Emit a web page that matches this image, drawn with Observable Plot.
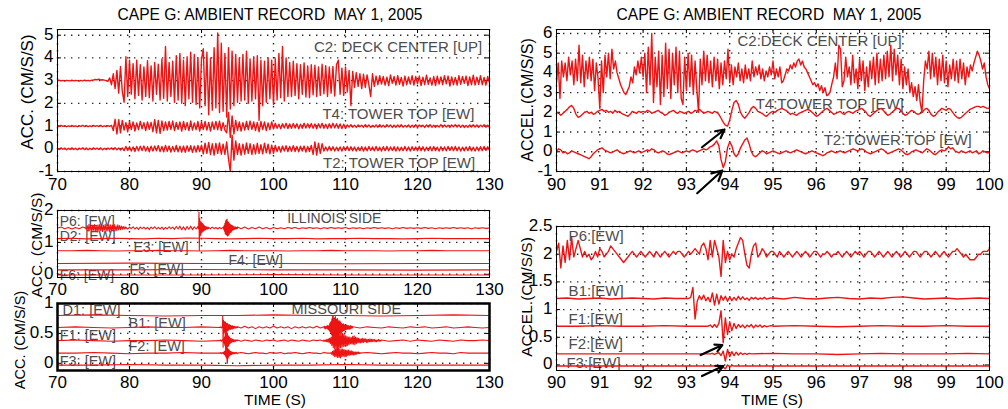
<!DOCTYPE html>
<html><head><meta charset="utf-8">
<script src="https://cdn.jsdelivr.net/npm/d3@7"></script>
<script src="https://cdn.jsdelivr.net/npm/@observablehq/plot@0.6"></script>
<style>
body{margin:0;background:#fff;}
#wrap{position:relative;width:1008px;height:409px;overflow:hidden;font-family:"Liberation Sans",Arial,Helvetica,sans-serif;background:#fff;}
#wrap svg{position:absolute;left:0;top:0;}
.t{position:absolute;white-space:pre;color:#000;line-height:1;}
</style></head><body><div id="wrap"></div><script>
// ===================== DATA =====================
// All trace values: deviations from the trace baseline, in 0.01 CM/S/S, uniformly sampled within each [t0,t1] segment.

// ---- Top-left: 70–130 s
const tlNames = ["C2", "T4", "T2"];
const tlBaselines = [3, 1, 0];
const tlC2 = [0,2,-1,1,-2,1,0,-1,2,-1,1,0,-2,1,-1,2,0,1,-1,2,3,5,4,6,3,4,2,0,-3,
 12,-18,30,-35,45,-55,62,-48,-95,105,-70,90,
 -60,75,-80,90,-65,70,-85,60,-70,88,-75,65,-90,80,-60,72,-85,95,-78,150,-90,80,-70,85,
 -95,110,-85,120,-100,90,-110,105,-80,125,-95,115,-105,100,-120,95,
 140,-110,125,-150,100,-130,145,-120,210,-140,165,-135,120,-160,145,-125,130,-110,115,-95,
 100,-90,115,-85,130,-100,95,-90,105,-80,110,-175,90,-110,85,-95,100,-80,90,-105,95,-85,120,-75,150,-90,100,-70,
 80,-70,85,-65,75,-80,70,-60,78,-72,65,-75,70,-62,68,-70,60,-65,72,-58,66,-70,60,-55,62,-68,70,90,-60,55,-65,60,-50,45,-110,40,
 -30,35,-25,30,-35,28,-30,25,-20,-70,30,-25,
 20,-18,22,-15,18,-20,15,-22,25,-12,18,-20,22,-16,14,-24,20,-18,16,-15,22,-20,18,-14,20,-22,15,-18,24,-16,12,-20,18,-22,20,-15,16,-18,22,-14,20,-24,16,-18,14,-20,22,-16,18,-12,20,-22,16,-18,24,-20,15,-16,22,-18,14,-20,18,-10];
const tlT4 = [2,-2,3,-1,2,-3,1,-2,3,-2,1,-3,2,-1,3,-2,2,-3,1,-2,3,-1,2,-2,3,-3,1,-2,2,-1,3,
 -20,30,-35,28,-30,25,
 -18,15,-25,20,-15,18,-22,14,-16,20,-12,15,-20,18,-14,16,
 -25,28,-30,25,-32,22,-20,18,
 -18,20,-15,22,-20,16,-14,18,-22,20,-16,15,-20,22,-18,14,-16,20,-22,18,-15,20,-18,16,-22,18,-14,20,-16,22,-20,15,-18,
 -30,60,-50,45,-35,
 25,-20,18,-22,15,-18,20,-16,22,-14,18,-20,16,-25,20,-15,18,-20,14,-16,18,-12,
 12,-10,8,-12,10,-8,12,-11,9,-10,11,-9,10,-12,8,-10,12,-9,10,-8,11,-10,9,-12,10,-8,12,-10,8,-11,10,-9,12,-8,10,-10,9,-11,8,-10,
 5,-4,6,-5,4,-6,5,-3,4,-5,6,-4,5,-6,3,-4,5,-5,6,-4,4,-5,6,-3,5,-6,4,-5,5,-4,6,-5,3,-4,5,-6,4,-5,6,-4,5,-3,4,-6,5,-4,6,-5,4,-5,3,-4,6,-5,5,-4,4,-6,5,-3,6,-4,5,-5,4,-6,3,-5,5,-4,6,-4,5,-5,4,-3,6,-5,4,-4];
const tlT2 = [3,-3,4,-2,3,-4,2,-3,4,-3,2,-4,3,-2,4,-3,3,-4,2,-3,4,-2,3,-3,4,-4,2,-3,3,-2,4,-3,5,-4,3,-5,4,
 -8,10,-7,9,-10,8,-12,10,-9,11,-8,12,-10,9,-13,11,-10,12,-9,14,-12,10,-13,15,-11,12,-14,10,-12,15,-13,11,-14,12,-15,13,-11,14,-16,12,-14,15,-12,16,
 -22,25,-20,28,-25,22,-28,24,-20,26,-24,20,-25,
 30,-45,-100,60,-50,
 35,-25,22,-28,20,-24,26,-20,22,-25,18,-22,24,-20,18,-22,25,-18,20,-22,16,-20,
 15,-12,10,-14,12,-10,13,-12,10,-11,14,-12,10,-13,11,-10,12,-14,10,-12,15,
 -25,30,-28,25,-20,22,
 -10,8,-9,10,-8,9,-10,7,-9,8,-10,9,-7,10,-8,9,-9,8,-10,7,-8,9,-10,8,-9,10,-7,8,-9,10,-8,7,-10,9,-8,10,-9,8,-7,9,-10,8,-9,7,-8,10,-9,8,-10,9,-7,8,-9,10,-8,9,-10,7,-8,9,-9,10,-8,7,-10,9,-8,8,-9,10,-7,9,-8,10,-9,8,-10,7,-9,8,-8,10,-9,7,-10,8,-9,9,-8,10,-7,9,-6];
const tlLabelText = ["C2: DECK CENTER [UP]", "T4: TOWER TOP [EW]", "T2: TOWER TOP [EW]"];
const tlLabelT = [129.0, 127.9, 128.0];
const tlLabelV = [4.48, 1.51, -0.65];

// ---- Top-right: 90–100 s
const trNames = ["C2", "T4", "T2"];
const trBaselines = [4, 2, 0];
const trC2 = [-50,50,-130,60,-20,50,-40,80,-10,60, -60,70,-40,140,-50,90,-70,60,-30,80,
 -40,70,-90,50,-30,-180,60,-100,90,-20, 100,-30,120,20,60,0,-30,-60,-80,-100,
 -110,-90,-70,-20,-50,30,-10,60,0,80, -20,100,-100,130,-60,200,-150,80,-70,110,
 -160,90,-120,150,-80,120,-130,100,-60,130, -100,110,-130,-160,80,-90,100,-70,90,-110,
 60,-80,-200,70,-60,110,-40,90,-50,60, -70,80,-40,70,-80,50,-60,60,-30,120,
 -50,40,-60,30,-20,50,-40,20,-50,40, -30,20,-40,60,-20,30,-10,40,-30,20,
 -40,10,-20,30,-10,60,-30,20,-20,30, -50,-40,-10,20,10,40,20,50,30,60,
 70,40,60,30,20,0,-20,-40,-60,-50, -70,-55,-90,-65,-100,-75,-115,-110,-95,-55,
 -20,50,-30,140,120,-70,-40,80,-20,30, -60,90,-50,20,-80,70,-40,60,-90,30,
 -70,60,-30,80,-60,100,-50,70,-40,90, -30,110,-20,140,-40,120,-10,90,-60,70,
 -80,30,-60,20,-100,-50,-120,-70,-140,-60, -150,-200,-40,60,20,110,-30,100,-20,80,
 -60,70,-40,90,-50,60,-70,40,-30,70, -40,60,-50,70,-30,50,-60,30,-20,40,
 10,50,80,110,90,60,20,50,-20,-60,-80];
const trT4 = [0,-5,-15,-5,5,15,28,35,20,-10, -25,-20,-10,0,5,-5,0,-10,-5,5, 10,15,5,10,0,5,-5,10,0,5,
 -5,-10,-15,-20,-10,5,0,-5,5,0, 5,0,10,5,-5,0,5,10,0,-5, -15,-10,0,5,10,0,-5,5,0,-5,
 0,5,-5,0,10,5,15,5,-5,0, 5,0,-5,5,0,-10,-30,-50,-65,-70, -40,10,50,60,40,0,-20,-30,-15,0,
 20,30,20,5,0,-5,-15,-20,-10,0, 5,0,10,15,20,15,10,0,-10,-5, -10,-15,-5,0,5,10,15,10,0,-10,
 -20,-15,-5,5,15,20,10,0,-10,-5, 0,5,-5,-10,0,5,0,-5,5,10, 15,20,10,0,-15,-20,-10,0,10,15,
 20,10,-5,-15,-10,0,10,20,20,10, -5,-15,-10,0,10,5,-5,-10,-5,0, 15,20,10,-10,-20,-15,0,10,20,15,
 10,20,15,0,-15,-25,-30,-25,-15,-5, 5,15,20,25,30,30,25,30,25,20,20];
const trT2 = [0,15,10,-5,0,-10,-5,5,0,-5, -10,-15,-20,-25,-30,-35,-25,-10,0,10, 15,20,10,5,0,-5,0,5,10,0,
 -5,-10,-5,0,5,0,-5,0,5,-5, 0,5,10,5,15,10,0,-5,0,5, 0,-10,-15,-10,-5,0,5,0,-5,0,
 5,0,5,10,5,0,5,10,15,10, 15,25,30,40,55,30,-40,-80,-50,20, 50,30,-10,-25,-10,20,40,60,70,40,
 0,-20,-25,-15,-5,5,0,-10,-5,0, 5,0,-5,-10,-5,0,5,0,-5,0, 5,10,5,0,-5,-10,-5,0,5,0,
 -5,-10,-15,-20,-15,-5,0,5,0,-5, 0,5,0,-5,0,5,10,15,10,5, 10,15,10,0,-5,-10,-5,0,5,10,
 15,10,0,-10,-5,0,5,10,15,10, 0,-10,-15,-10,0,5,10,5,0,-5, 5,15,10,0,-10,-15,-5,5,10,5,
 10,25,15,20,5,0,-5,5,0,-5, 0,5,-5,0,5,-10,-5,5,0,-5,-5];
const trLabelText = ["C2:DECK CENTER [UP]", "T4:TOWER TOP [EW]", "T2:TOWER TOP [EW]"];
const trLabelT = [94.18, 94.6, 96.17];
const trLabelV = [5.61, 2.40, 0.61];
const trArrowX1 = [93.36, 93.25], trArrowY1 = [0.23, -2.1], trArrowX2 = [93.88, 93.83], trArrowY2 = [1.13, -0.95];

// ---- Middle-left (Illinois side): 70–130 s
const mlNames = ["P6", "D2", "E3", "F4", "F5", "F6"];
const mlBaselines = [1.45, 1.12, 0.74, 0.34, 0.14, -0.02];
const mlP6a = [0,3,-2,2,-3,2,-2,3,-1];
const mlP6b = [-5,8,-10,12,-8,10,-12,9,-7,11,-10,8,-12,10,-9,12,-8,10,-11,9,-7,12,-10,8,-9,11,-12,10,-8,9,-10,12,-9,7,-8,10,-6,8,-5,6,-4,5,-3,4,-2];
const mlP6c = [2,-3,3,-2,4,-3,2,-4,3,-2,3,-3,2,-4,3,-2,4,-3,2,-3,3,-4,2,-3,4,-2,3,-4,5,-3,6,-5,4,-6,5,-4,6,-5,4,-3,5];
const mlP6d = [0,2,-3,50,-70,30,-25,20,-22,18,-15,16,-12,14,-10,11,-9,8,-7,6,-6,5,-4,4,-3,3,-3,2,-2,2,-1];
const mlP6e = [2,-2,3,-2,2,-3,2,-2,3];
const mlP6f = [0,3,-5,8,-10,15,-18,22,-20,25,-22,28,-25,20,-24,18,-20,15,-16,12,-14,10,-12,9,-10,8,-7,6,-6,5,-4,4,-4,3,-3,3,-2,2,-2,2,-1];
const mlP6g = [3,-2,3,-3,2,-2,3,-2,2,-3,2,-2,1,-2,2,-1,2,-2,1,-1,2,-1,1,-2,1,-1,2,-1,1,-1,2,-2,1,-1,1,-2,1,-1,2,-1,1,-1,1,-2,1,-1,2,-1,1,-1,1,-1,2,-1,1,-2,1,-1,1,-1,2,-1,1,-1,1,-2,1,-1,1,-1,0];
const mlD2 = [0,1,-1,0,1,0,-1,1,0,2,1,0,-1,0,1,0,0,1,-1,0,0,1,0,0,-1,0,1,0,0,0,0];
const mlE3 = [0,0,1,0,-1,0,0,1,0,0,-1,0,1,0,0,0,-1,0,0,1,0,0,0,-1,0,0,1,0,0,0,0];
const mlF4 = [0,1,0,0,-1,0,0];
const mlF5 = [0,0,1,0,0,-1,0];
const mlF6 = [0,0,0,1,0,0,0];
const mlLabelText = ["P6: [EW]", "D2: [EW]", "E3: [EW]", "F4: [EW]", "F5: [EW]", "F6: [EW]", "ILLINOIS SIDE"];
const mlLabelT = [70.3, 70.3, 80.55, 93.75, 80.0, 70.3, 101.9];
const mlLabelV = [1.66, 1.2, 0.85, 0.42, 0.16, -0.03, 1.74];

// ---- Bottom-left (Missouri side): 70–130 s
const blNames = ["D1", "B1", "F1", "F2", "F3"];
const blBaselines = [0.8, 0.6, 0.38, 0.17, -0.03];
const blD1 = [0,1,0,-1,0,0,1,0,0,-1,0,1,0];
const blB1a = [0,1,0,-1,0,1,0,0,1,0];
const blB1b = [0,0,1,0,0,-1,0,1,0,20,-33,12,-10,9,-8,10,-7,8,-9,6,-6,7,-5,6,-5,4,-4,5,-3,4,-3,3,-3,2,-2,3,-2,2,-2,2,-1,2,-1,1,-1,1,-1,1,0,1,0];
const blB1c = [1,-1,2,-1,1,-2,1,-1,1,-1,2,-1,1,-1,1,-2,1,-1,1,-1,1,-1,2,-1,1];
const blB1d = [1,-1,2,-2,1,-2,2,-1,2,-2, 3,-3,2,-4,3,-5,6,-7,8,-9, 10,-12,14,-13,18,-15,20,-16,15,-18, 16,-14,18,-15,13,-16,14,-12,15,-13,
 11,-12,10,-9,11,-8,9,-10,7,-8, 6,-7,5,-6,6,-5,4,-5,4,-4, 3,-4,3,-3,4,-3,2,-3,3,-2, 2,-3,2,-2,3,-2,2,-1,2,-1,1];
const blB1e = [1,-1,1,0,-1,1,0,-1,1,0,1,-1,0,1,-1,0,1,0,-1,0];
const blF1a = [0,1,0,-1,0,0,1,0,-1,0];
const blF1b = [0,0,0,1,0,-1,0,1,0,1,2,-3,4,-5,6,-8,12,-15,18,-20,16,-14,12,-10,8,-9,7,-6,5,-5,4,-4,3,-3,3,-2,2,-2,2,-2,1,-2,1,-1,1,-1,1,0,1,0,0];
const blF1c = [1,-1,1,0,-1,1,0,-1,1,0,1,-1,0,1,-1,1,0,-1,1,0,-1,1,0,1,-1];
const blF1d = [1,-1,1,-2,2,-2,3,-3,4,-5, 6,-8,10,-12,15,-14,16,-15,18,-16, 14,-15,13,-12,14,-11,12,-10,11,-9, 8,-9,7,-8,6,-7,6,-5,5,-6,
 7,-6,8,-7,6,-5,5,-4,4,-4, 3,-4,3,-3,4,-3,3,-2,3,-3, 2,-3,2,-2,3,-2,2,-2,2,-1, 2,-2,1,-2,1,-1,2,-1,1,-1,1];
const blF1e = [1,-1,0,1,-1,1,0,-1,1,0,-1,1,0,0,1,0];
const blF2a = [0,0,1,0,-1,0,0,1,0,0];
const blF2b = [0,0,1,0,0,-1,0,1,0,0,1,-1,2,-2,3,-3,4,-5,6,-8,10,-12,-17,8,-8,6,-6,5,-4,3,-3,3,-2,2,-2,2,-1,1,-1,1,-1,1,0,-1,1,0,0,1,0,-1,0];
const blF2c = [0,1,0,-1,0,1,0,0,-1,1,0,0,1,-1,0,0,1,0,-1,0,1,0,0,-1,1,0,0];
const blF2d = [1,-2,3,-4,5,-6,7,-6,8,-7,8,-7,6,-8,7,-6,7,-5,6,-6,5,-6,5,-4,5,-4,4,-3,4,-3,3,-3,2,-3,2,-2,2,-1,2,-1,1];
const blF2e = [0,1,0,-1,0,1,0,0,-1,0,1,0,0,-1,1,0,0,0,0];
const blF3 = [0,0,1,0,0,-1,0,0,1,0,0,0,0];
const blLabelText = ["D1: [EW]", "B1: [EW]", "F1: [EW]", "F2: [EW]", "F3: [EW]", "MISSOURI SIDE"];
const blLabelT = [70.7, 79.86, 70.3, 79.86, 70.3, 102.5];
const blLabelV = [0.89, 0.67, 0.46, 0.28, 0.03, 0.91];

// ---- Bottom-right: 90–100 s
const brNames = ["P6", "B1", "F1", "F2", "F3"];
const brBaselines = [2.0, 1.2, 0.7, 0.2, -0.02];
const brP6 = [5,20,-25,15,-15,25,-10,30,-5,10, 25,10,-5,5,-5,0,-10,-5,5,-5, 10,5,-5,0,5,15,10,5,0,-5,
 -10,-15,-10,-5,0,5,0,-5,0,5, 0,-5,0,5,0,-5,5,0,-5,0, 5,0,-5,0,5,0,5,5,0,-5,
 0,5,0,5,10,5,0,15,20,10, -10,25,-5,25,10,-5,-40,25,-15,5, -10,0,-5,10,20,30,25,0,-20,-25,
 0,15,20,-5,0,10,5,-5,0,5, 5,0,-5,5,0,-5,0,5,0,-5, 0,5,0,-5,0,5,0,-5,0,5,
 5,0,-5,0,0,5,0,-5,0,0, 5,0,-5,0,5,0,-5,0,5,0, 5,0,-5,0,5,5,0,-5,0,5,
 0,-5,0,5,0,-5,0,5,0,-5, 0,5,0,-5,0,5,5,0,-5,0, 5,5,0,-5,0,5,0,-5,0,5,
 0,-5,0,5,5,10,5,0,-5,0, -5,-10,-10,-10,-5,0,0,5,5,5,10];
const brB1a = [0,1,-1,0,1,-1,0,1,0,-1,1,0,0];
const brB1b = [0,0,2,20,-37,-5,5,-2,6,-4,2,-6,10,-12,8,-10,5,-3,4,-5,3,-4,2,-3,4,-2,3,-2,1,-3,2,-1,2,-2,1,-1,2,-1,0,1,0];
const brB1c = [1,-1,2,0,-1,1,2,0,-1,1,0,2,3,1,-1,0,1,-1,0,1,0];
const brF1a = [0,0,1,0,0,1,0,0];
const brF1b = [0,2,-2,3,-2,5,28,-30,15,-15,8,-8,5,-4,3,-2,2,-3,2,-1,3,-3,2,-1,2,-2,1,-1,0,1,0];
const brF1c = [0,1,0,-1,0,1,0,0,1,0,0];
const brF2a = [0,0,0,0,0,0,0,0];
const brF2b = [0,0,1,-1,1,2,-3,5,-13,8,-5,4,-3,3,-2,2,-1,1,-1,1,0];
const brF2c = [0,1,0,0,-1,0,1,0,0,0,1,0];
const brF3a = [0,0,0,0,0,0,0,0];
const brF3b = [0,0,0,0,0,0,-1,-2,-5,2,-1,1,0,0,0,0,0,0,0,0,0];
const brF3c = [0,0,0,0,0,0,0,0,0,0,0,0];
const brLabelText = ["P6:[EW]", "B1:[EW]", "F1:[EW]", "F2:[EW]", "F3:[EW]"];
const brLabelT = [90.28, 90.28, 90.28, 90.28, 90.23];
const brLabelV = [2.32, 1.33, 0.83, 0.37, 0.04];
const brArrowX1 = [93.33, 93.36], brArrowY1 = [0.18, -0.2], brArrowX2 = [93.83, 93.85], brArrowY2 = [0.36, -0.02];

// Tick values
const xTicksWide = [70, 80, 90, 100, 110, 120, 130];
const xTicksZoom = [90, 91, 92, 93, 94, 95, 96, 97, 98, 99, 100];
const yTicksTL = [-1, 0, 1, 2, 3, 4, 5];
const yTicksTR = [-1, 0, 1, 2, 3, 4, 5, 6];
const yTicksML = [0, 1, 2];
const yTicksBL = [0, 0.5, 1];
const yTicksBR = [0, 0.5, 1, 1.5, 2, 2.5];

const titleText = "CAPE G: AMBIENT RECORD  MAY 1, 2005";
const yTitleAcc = "ACC. (CM/S/S)";
const yTitleAccel = "ACCEL.(CM/S/S)";
const xTitle = "TIME (S)";

// ===================== DRAWING =====================
const FONT = '"Liberation Sans", Arial, Helvetica, sans-serif';
const RED = "#ee1414";
const wrap = document.getElementById("wrap");

function trace(name, base, segs) {
  const out = [];
  for (const [t0, t1, vals] of segs) {
    const n = vals.length;
    for (let i = 0; i < n; i++) out.push({id: name, t: t0 + (t1 - t0) * i / (n - 1), v: base + vals[i] / 100});
  }
  return out;
}
function labelRows(text, t, v) { return text.map((s, i) => ({s, t: t[i], v: v[i]})); }
function arrowRows(x1, y1, x2, y2) { return x1.map((_, i) => ({x1: x1[i], y1: y1[i], x2: x2[i], y2: y2[i]})); }

function panel(cfg) {
  const {box: [x0, y0, x1, y1], xd, yd, xt, yt, data, labels, anchor, arrows = [], frameW = 1, lineW = 1.1, labelSize = 15, xPad = 6} = cfg;
  const W = x1 - x0, H = y1 - y0;
  const grid = {stroke: "#111", strokeOpacity: 0.9, strokeWidth: 1.4, strokeDasharray: "1.4,5.6"};
  const tk = {stroke: "#000", strokeWidth: 1};
  const svg = Plot.plot({
    width: 1008, height: 409,
    marginLeft: x0, marginRight: 1008 - x1, marginTop: y0, marginBottom: 409 - y1,
    x: {domain: xd, label: null},
    y: {domain: yd, label: null},
    style: {background: "transparent", fontFamily: FONT, fontSize: "17px", color: "#000", overflow: "visible"},
    marks: [
      Plot.text(labels, {x: "t", y: "v", text: "s", textAnchor: anchor, fill: "#4d4d4d", fontSize: labelSize, fontFamily: FONT}),
      Plot.gridX(xt, grid),
      Plot.gridY(yt, grid),
      Plot.tickX(xt, {x: d => d, insetTop: H - 4, ...tk}),
      Plot.tickX(xt, {x: d => d, insetBottom: H - 4, ...tk}),
      Plot.tickY(yt, {y: d => d, insetRight: W - 4, ...tk}),
      Plot.tickY(yt, {y: d => d, insetLeft: W - 4, ...tk}),
      Plot.line(data, {x: "t", y: "v", z: "id", stroke: RED, strokeWidth: lineW, clip: true, strokeLinejoin: "round"}),
      Plot.arrow(arrows, {x1: "x1", y1: "y1", x2: "x2", y2: "y2", stroke: "#000", strokeWidth: 2.2, headLength: 9, headAngle: 55}),
      Plot.axisX(xt, {anchor: "bottom", tickSize: 0, tickPadding: xPad, label: null}),
      Plot.axisY(yt, {anchor: "left", tickSize: 0, tickPadding: 4, dy: -1, label: null, tickFormat: d => String(d)}),
      Plot.frame({stroke: "#000", strokeWidth: frameW})
    ]
  });
  wrap.appendChild(svg);
}

function text(str, cx, cy, size, rot) {
  const d = document.createElement("div");
  d.className = "t";
  d.textContent = str;
  d.style.left = cx + "px";
  d.style.top = cy + "px";
  d.style.fontSize = size + "px";
  d.style.transform = "translate(-50%,-50%)" + (rot ? " rotate(-90deg)" : "");
  wrap.appendChild(d);
}

// Top-left
panel({
  box: [57, 29, 489, 171], xd: [70, 130], yd: [-1, 5.25], xt: xTicksWide, yt: yTicksTL,
  data: [
    ...trace(tlNames[0], tlBaselines[0], [[70, 130, tlC2]]),
    ...trace(tlNames[1], tlBaselines[1], [[70, 130, tlT4]]),
    ...trace(tlNames[2], tlBaselines[2], [[70, 130, tlT2]])
  ],
  labels: labelRows(tlLabelText, tlLabelT, tlLabelV), anchor: "end", lineW: 1.4
});
// Top-right
panel({
  box: [556, 29, 989, 171], xd: [90, 100], yd: [-1, 6.2], xt: xTicksZoom, yt: yTicksTR,
  data: [
    ...trace(trNames[0], trBaselines[0], [[90, 100, trC2]]),
    ...trace(trNames[1], trBaselines[1], [[90, 100, trT4]]),
    ...trace(trNames[2], trBaselines[2], [[90, 100, trT2]])
  ],
  labels: labelRows(trLabelText, trLabelT, trLabelV), anchor: "start",
  arrows: arrowRows(trArrowX1, trArrowY1, trArrowX2, trArrowY2), lineW: 1.4
});
// Middle-left
panel({
  box: [57, 210, 489, 277], xd: [70, 130], yd: [-0.1, 2], xt: xTicksWide, yt: yTicksML,
  data: [
    ...trace(mlNames[0], mlBaselines[0], [[70, 74, mlP6a], [74, 79.5, mlP6b], [79.5, 89.5, mlP6c], [89.5, 91, mlP6d], [91, 93, mlP6e], [93, 95, mlP6f], [95, 130, mlP6g]]),
    ...trace(mlNames[1], mlBaselines[1], [[70, 130, mlD2]]),
    ...trace(mlNames[2], mlBaselines[2], [[70, 130, mlE3]]),
    ...trace(mlNames[3], mlBaselines[3], [[70, 130, mlF4]]),
    ...trace(mlNames[4], mlBaselines[4], [[70, 130, mlF5]]),
    ...trace(mlNames[5], mlBaselines[5], [[70, 130, mlF6]])
  ],
  labels: labelRows(mlLabelText, mlLabelT, mlLabelV), anchor: "start", lineW: 1.1, labelSize: 14, xPad: 5
});
// Bottom-left
panel({
  box: [57, 303, 489, 370], xd: [70, 130], yd: [-0.12, 1], xt: xTicksWide, yt: yTicksBL,
  data: [
    ...trace(blNames[0], blBaselines[0], [[70, 130, blD1]]),
    ...trace(blNames[1], blBaselines[1], [[70, 92.5, blB1a], [92.5, 95, blB1b], [95, 107, blB1c], [107, 111, blB1d], [111, 130, blB1e]]),
    ...trace(blNames[2], blBaselines[2], [[70, 92.5, blF1a], [92.5, 95, blF1b], [95, 107, blF1c], [107, 115, blF1d], [115, 130, blF1e]]),
    ...trace(blNames[3], blBaselines[3], [[70, 92.5, blF2a], [92.5, 95, blF2b], [95, 108, blF2c], [108, 112, blF2d], [112, 130, blF2e]]),
    ...trace(blNames[4], blBaselines[4], [[70, 130, blF3]])
  ],
  labels: labelRows(blLabelText, blLabelT, blLabelV), anchor: "start", frameW: 2.5, lineW: 1.1, labelSize: 14.5, xPad: 5
});
// Bottom-right
panel({
  box: [556, 226, 989, 370], xd: [90, 100], yd: [-0.1, 2.5], xt: xTicksZoom, yt: yTicksBR,
  data: [
    ...trace(brNames[0], brBaselines[0], [[90, 100, brP6]]),
    ...trace(brNames[1], brBaselines[1], [[90, 93, brB1a], [93, 95, brB1b], [95, 100, brB1c]]),
    ...trace(brNames[2], brBaselines[2], [[90, 93.5, brF1a], [93.5, 95, brF1b], [95, 100, brF1c]]),
    ...trace(brNames[3], brBaselines[3], [[90, 93.5, brF2a], [93.5, 94.5, brF2b], [94.5, 100, brF2c]]),
    ...trace(brNames[4], brBaselines[4], [[90, 93.5, brF3a], [93.5, 94.5, brF3b], [94.5, 100, brF3c]])
  ],
  labels: labelRows(brLabelText, brLabelT, brLabelV), anchor: "start",
  arrows: arrowRows(brArrowX1, brArrowY1, brArrowX2, brArrowY2), lineW: 1.4, xPad: 5
});

text(titleText, 270, 15, 15.6);
text(titleText, 769, 15, 15.6);
text(yTitleAcc, 27, 92, 17, true);
text(yTitleAccel, 528, 100, 16, true);
text(yTitleAcc, 37, 245, 15.5, true);
text(yTitleAcc, 20, 340, 14.5, true);
text(yTitleAccel, 527, 297, 15.5, true);
text(xTitle, 275, 400, 15.5);
text(xTitle, 772, 400, 15.5);
</script></body></html>
